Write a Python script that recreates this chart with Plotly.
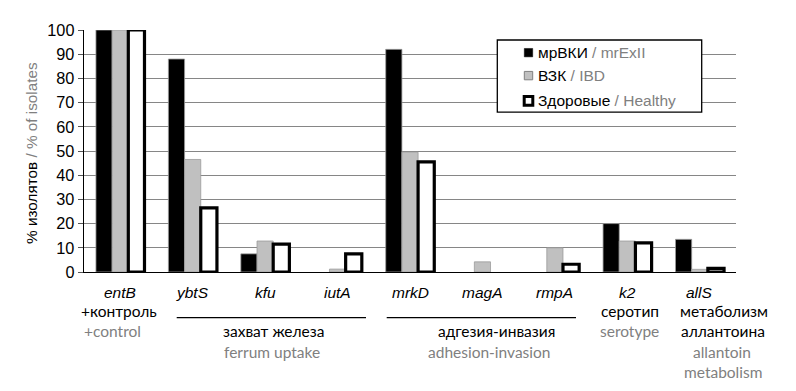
import plotly.graph_objects as go

# ---------------- data ----------------
genes = ["entB", "ybtS", "kfu", "iutA", "mrkD", "magA", "rmpA", "k2", "allS"]
mrexii = [100, 88, 7.5, 0, 92, 0, 0, 20, 13.5]
ibd = [100, 46.5, 12.8, 1.2, 49.5, 4.2, 10, 12.8, 1.1]
healthy = [100, 26.5, 11.5, 7.5, 45.5, 0, 3.2, 12, 1.5]

series_ru = ["мрВКИ", "ВЗК", "Здоровые"]
series_en = ["mrExII", "IBD", "Healthy"]

y_ticks = [0, 10, 20, 30, 40, 50, 60, 70, 80, 90, 100]
y_title_ru = "% изолятов"
y_title_en = "% of isolates"

# group captions: (russian lines, english lines)
grp_control = (["+контроль"], ["+control"])
grp_iron = (["захват железа"], ["ferrum uptake"])
grp_adh = (["адгезия-инвазия"], ["adhesion-invasion"])
grp_sero = (["серотип"], ["serotype"])
grp_meta = (["метаболизм", "аллантоина"], ["allantoin", "metabolism"])

# ---------------- layout helpers ----------------
W, H = 796, 391
L, R, T, B = 84, 736, 30, 272.5
GRAY = "#808080"
SANS = "Liberation Sans"


def px(x):
    return (x - L) / (R - L)


def py(y):
    return (B - y) / (B - T)


fig = go.Figure()
styles = [
    dict(fill="#000000", line="#9a9a9a", lw=0.8),
    dict(fill="#c0c0c0", line="#9a9a9a", lw=0.8),
    dict(fill="#ffffff", line="#000000", lw=3.2),
]
for i, (vals, ru, en) in enumerate(zip([mrexii, ibd, healthy], series_ru, series_en)):
    st = styles[i]
    fig.add_trace(go.Bar(
        x=genes, y=vals,
        name=f"{ru} / {en}",
        marker=dict(color=st["fill"],
                    line=dict(color=st["line"], width=[st["lw"] if v > 0 else 0 for v in vals])),
        cliponaxis=False,
        showlegend=False,
    ))

annotations = []
shapes = []

# gene labels (italic)
for g in genes:
    annotations.append(dict(
        x=g, xref="x", y=py(292.7), yref="paper", text=f"<i>{g}</i>",
        showarrow=False, xanchor="center", yanchor="middle",
        font=dict(family=SANS, size=15.5, color="#000"),
    ))

cap_font = "Lato"
cap_size = 15.5


def cap(text, x, y, color="#000"):
    annotations.append(dict(
        x=px(x), xref="paper", y=py(y), yref="paper", text=text,
        showarrow=False, xanchor="center", yanchor="middle",
        font=dict(family=cap_font, size=cap_size, color=color),
    ))


cap(grp_control[0][0], 118.5, 311.7)
cap(grp_control[1][0], 112.5, 331.7, GRAY)
cap(grp_iron[0][0], 273, 332)
cap(grp_iron[1][0], 271.7, 353, GRAY)
cap(grp_adh[0][0], 496, 332)
cap(grp_adh[1][0], 489, 353, GRAY)
cap(grp_sero[0][0], 630, 311.7)
cap(grp_sero[1][0], 629, 332, GRAY)
cap(grp_meta[0][0], 724, 311.7)
cap(grp_meta[0][1], 723, 332)
cap(grp_meta[1][0], 721.7, 353, GRAY)
cap(grp_meta[1][1], 723, 373, GRAY)

# y axis title
annotations.append(dict(
    x=px(31.7), xref="paper", y=py(153.5), yref="paper",
    text=f"{y_title_ru} <span style='color:{GRAY}'>/ {y_title_en}</span>",
    textangle=-90, showarrow=False, xanchor="center", yanchor="middle",
    font=dict(family=SANS, size=15.3, color="#000"),
))

# group underlines
for x0, x1 in [(176.7, 366), (386.7, 576)]:
    shapes.append(dict(type="line", xref="paper", yref="paper", x0=px(x0), x1=px(x1),
                       y0=py(318.3), y1=py(318.3), line=dict(color="#000", width=1.3)))

# ---------------- manual legend ----------------
shapes.append(dict(type="rect", xref="paper", yref="paper",
                   x0=px(497.3), x1=px(701.7), y0=py(40), y1=py(112.3),
                   fillcolor="white", line=dict(color="#000", width=1.3), layer="above"))
row_y = [52.7, 75.7, 101]
sym = [
    dict(fill="#000000", line="#000000", lw=0.5, half=4.2),
    dict(fill="#c0c0c0", line="#808080", lw=1, half=4.2),
    dict(fill="#ffffff", line="#000000", lw=3, half=4.3),
]
for i, (ru, en) in enumerate(zip(series_ru, series_en)):
    cy = row_y[i]
    s = sym[i]
    cx = 528.5
    shapes.append(dict(type="rect", xref="paper", yref="paper",
                       x0=px(cx - s["half"]), x1=px(cx + s["half"]),
                       y0=py(cy - s["half"]), y1=py(cy + s["half"]),
                       fillcolor=s["fill"], line=dict(color=s["line"], width=s["lw"]),
                       layer="above"))
    annotations.append(dict(
        x=px(535.5), xref="paper", y=py(cy), yref="paper", xanchor="left", yanchor="middle",
        text=f"{ru} <span style='color:{GRAY}'>/ {en}</span>", showarrow=False,
        font=dict(family=SANS, size=15.5, color="#000"),
    ))

fig.update_layout(
    width=W, height=H,
    margin=dict(l=L, r=W - R, t=T, b=H - B, pad=0),
    paper_bgcolor="white", plot_bgcolor="white",
    barmode="group", bargap=0.33, bargroupgap=0,
    showlegend=False,
    annotations=annotations,
    shapes=shapes,
    font=dict(family=SANS),
    hovermode=False,
)
fig.update_xaxes(
    showticklabels=False, showgrid=False, ticks="",
    showline=True, linecolor="#000", linewidth=1.3,
    range=[-0.5, len(genes) - 0.5],
)
fig.update_yaxes(
    range=[0, 100], tickvals=y_ticks,
    showgrid=True, gridcolor="#868686", gridwidth=1,
    showline=True, linecolor="#000", linewidth=1.3,
    ticks="outside", ticklen=5, tickcolor="#555", tickwidth=1,
    tickfont=dict(family=SANS, size=16.3, color="#000"),
    zeroline=False,
)

fig.write_html(
    "out.html",
    config={"displayModeBar": False, "staticPlot": True},
    post_script="document.body.style.margin='0';document.body.style.padding='0';",
)
